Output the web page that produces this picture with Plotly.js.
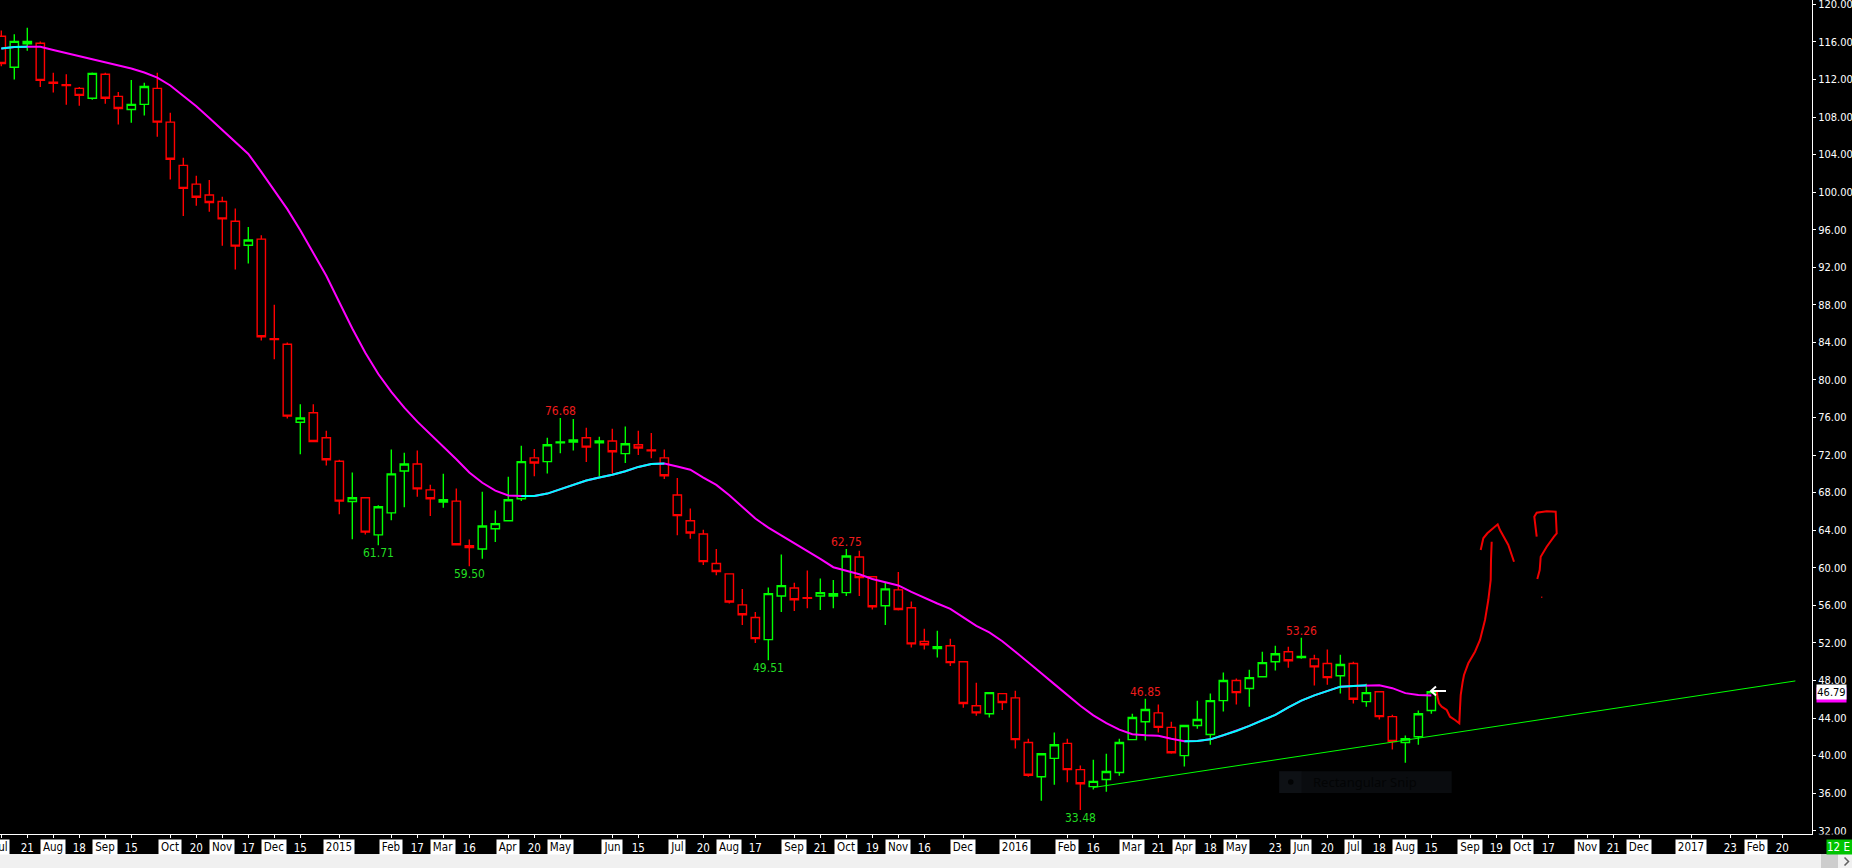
<!DOCTYPE html>
<html><head><meta charset="utf-8">
<script src="https://cdn.plot.ly/plotly-3.0.1.min.js"></script>
<style>html,body{margin:0;padding:0;background:#000;overflow:hidden}#chart{width:1852px;height:868px}</style>
</head><body><div id="chart"></div>
<script>
// ---------- DATA (weekly bars) ----------
const dates = ['2014-07-07','2014-07-14','2014-07-21','2014-07-28','2014-08-04','2014-08-11','2014-08-18','2014-08-25','2014-09-01','2014-09-08','2014-09-15','2014-09-22','2014-09-29','2014-10-06','2014-10-13','2014-10-20','2014-10-27','2014-11-03','2014-11-10','2014-11-17','2014-11-24','2014-12-01','2014-12-08','2014-12-15','2014-12-22','2014-12-29',
'2015-01-05','2015-01-12','2015-01-19','2015-01-26','2015-02-02','2015-02-09','2015-02-16','2015-02-23','2015-03-02','2015-03-09','2015-03-16','2015-03-23','2015-03-30','2015-04-06','2015-04-13','2015-04-20','2015-04-27','2015-05-04','2015-05-11','2015-05-18','2015-05-25','2015-06-01','2015-06-08','2015-06-15','2015-06-22','2015-06-29','2015-07-06','2015-07-13','2015-07-20','2015-07-27','2015-08-03','2015-08-10','2015-08-17','2015-08-24','2015-08-31','2015-09-07','2015-09-14','2015-09-21','2015-09-28','2015-10-05','2015-10-12','2015-10-19','2015-10-26','2015-11-02','2015-11-09','2015-11-16','2015-11-23','2015-11-30','2015-12-07','2015-12-14','2015-12-21','2015-12-28',
'2016-01-04','2016-01-11','2016-01-18','2016-01-25','2016-02-01','2016-02-08','2016-02-15','2016-02-22','2016-02-29','2016-03-07','2016-03-14','2016-03-21','2016-03-28','2016-04-04','2016-04-11','2016-04-18','2016-04-25','2016-05-02','2016-05-09','2016-05-16','2016-05-23','2016-05-30','2016-06-06','2016-06-13','2016-06-20','2016-06-27','2016-07-04','2016-07-11','2016-07-18','2016-07-25','2016-08-01','2016-08-08','2016-08-15'];

const openP = [116.6,113.3,115.8,115.85,111.7,111.45,111.05,110.0,112.55,110.2,
108.8,109.35,111.05,107.45,102.85,100.85,99.7,99.0,96.9,94.35,
95.0,84.4,83.8,75.5,76.5,73.85,71.35,67.05,67.45,63.5,
65.85,70.3,71.05,68.3,67.0,67.1,62.35,62.0,64.15,65.0,
67.35,71.7,71.3,73.3,73.4,73.85,73.3,73.5,72.15,73.1,
72.55,71.7,67.75,65.0,63.6,60.45,59.35,56.05,54.7,52.35,
57.0,57.85,56.8,57.0,57.0,57.35,61.15,59.05,55.95,57.65,
55.75,52.15,51.4,51.7,50.0,45.3,44.45,46.6,46.15,41.4,
37.75,39.7,41.3,38.5,36.7,37.45,38.2,41.7,43.6,44.55,
43.0,40.0,43.2,42.25,45.85,48.0,47.15,48.4,50.0,51.05,
50.45,50.3,49.8,48.5,49.8,45.75,46.8,44.15,41.4,42.0,44.8];

const highP = [117.2,116.8,117.5,116.05,112.7,112.55,111.2,112.75,112.7,110.65,
111.95,111.65,112.7,108.45,103.65,101.75,101.3,99.5,98.25,96.3,
95.4,88.0,84.0,77.4,77.4,74.6,71.5,70.15,67.5,66.65,
72.6,72.25,72.5,68.85,70.0,68.45,63.0,68.1,66.1,69.7,
73.0,72.65,73.85,75.95,75.85,74.9,73.95,74.8,75.05,74.6,
74.35,72.6,69.55,66.3,64.05,62.0,59.4,57.75,55.3,57.9,
61.4,58.4,59.7,58.85,58.7,62.0,61.8,59.1,58.4,59.55,
56.4,53.5,53.3,52.45,50.05,47.75,46.75,46.65,46.9,41.8,
40.25,42.45,41.8,38.95,39.55,40.2,41.8,44.45,46.05,45.45,
43.6,43.25,45.85,46.6,48.85,48.2,49.15,51.05,51.7,51.6,
52.55,50.75,51.3,50.75,50.0,47.65,46.85,44.35,42.15,44.8,46.85];

const lowP = [113.4,112.0,115.05,111.2,110.6,109.3,109.2,109.85,109.4,107.2,
107.4,108.15,105.9,101.35,97.45,98.55,97.9,94.3,91.75,92.4,
84.2,82.2,75.9,72.1,73.4,70.9,65.7,63.05,63.55,62.4,
65.05,66.45,67.55,65.5,66.4,62.4,60.15,60.95,62.75,64.95,
67.1,69.75,70.05,72.2,72.5,71.25,69.75,70.05,71.15,72.0,
71.65,69.45,63.45,63.1,60.3,59.2,56.2,53.9,52.0,50.15,
55.3,55.4,55.7,55.5,55.7,57.0,57.0,55.55,53.9,55.45,
51.5,51.3,50.45,49.55,45.1,44.25,44.05,44.85,40.75,37.75,
35.2,36.9,37.15,34.2,36.4,36.15,37.85,41.65,41.6,42.45,
40.2,38.85,42.85,41.15,44.7,45.45,45.2,48.35,49.05,49.35,
50.3,47.45,47.55,46.6,45.55,45.2,43.85,40.65,39.25,41.15,44.45];

const closeP = [113.7,116.05,116.05,111.9,111.6,111.35,110.3,112.65,110.0,108.9,
109.35,111.25,107.45,103.5,100.4,99.45,98.9,97.15,94.25,94.9,
84.6,84.3,76.15,75.95,73.45,71.5,67.1,67.45,63.8,66.5,
70.0,71.05,68.4,67.35,67.25,62.45,62.15,64.45,64.7,67.25,
71.3,71.15,73.1,73.4,73.6,72.85,73.5,72.35,73.2,72.75,
72.45,69.8,65.55,63.7,60.65,59.6,56.35,55.0,52.45,57.25,
58.1,56.6,56.75,57.35,57.25,61.25,58.95,55.85,57.75,55.55,
51.9,51.8,51.6,49.9,45.55,44.55,46.7,45.65,41.7,37.9,
40.2,41.15,38.5,37.0,37.25,38.3,41.4,44.05,44.9,43.0,
40.3,43.2,43.85,45.85,48.0,46.7,48.3,49.9,50.85,50.1,
50.55,49.45,48.3,49.7,46.0,46.7,44.15,41.5,41.8,44.45,46.79];

const maValues = [115.30,115.45,115.49,115.49,115.14,114.80,114.49,114.18,113.85,113.51,
113.17,112.74,112.20,111.36,110.24,109.14,107.90,106.63,105.37,104.07,
102.16,100.24,98.19,95.94,93.49,91.10,88.27,85.48,82.90,80.63,
78.73,77.06,75.56,74.22,72.95,71.56,70.14,69.05,68.22,67.69,
67.63,67.64,67.90,68.36,68.86,69.29,69.61,69.90,70.28,70.74,
71.06,71.10,70.78,70.44,69.61,68.83,67.73,66.50,65.24,64.27,
63.46,62.65,61.78,60.94,60.06,59.71,59.31,58.81,58.46,58.12,
57.44,56.80,56.20,55.62,54.73,53.81,53.12,52.18,51.06,49.96,
48.77,47.61,46.46,45.30,44.29,43.46,42.76,42.27,42.16,42.10,
41.79,41.52,41.55,41.73,42.16,42.62,43.16,43.78,44.33,45.14,
45.85,46.41,46.84,47.34,47.41,47.48,47.48,47.18,46.65,46.44,46.41];

const trendDates = ['2016-02-15','2017-02-27'];
const trendValues = [36.6, 47.95];

const extremeIndex = [29, 36, 43, 59, 65, 83, 88, 100];
const extremeText  = ['61.71','59.50','76.68','49.51','62.75','33.48','46.85','53.26'];
const extremeKind  = ['low','low','high','low','high','low','high','high'];

const tickDates = ['2014-07-07','2014-07-21','2014-08-04','2014-08-18','2014-09-01','2014-09-15','2014-10-06','2014-10-20','2014-11-03','2014-11-17','2014-12-01','2014-12-15',
'2015-01-05','2015-02-02','2015-02-16','2015-03-02','2015-03-16','2015-04-06','2015-04-20','2015-05-04','2015-06-01','2015-06-15','2015-07-06','2015-07-20','2015-08-03','2015-08-17','2015-09-07','2015-09-21','2015-10-05','2015-10-19','2015-11-02','2015-11-16','2015-12-07',
'2016-01-04','2016-02-01','2016-02-15','2016-03-07','2016-03-21','2016-04-04','2016-04-18','2016-05-02','2016-05-23','2016-06-06','2016-06-20','2016-07-04','2016-07-18','2016-08-01','2016-08-15','2016-09-05','2016-09-19','2016-10-03','2016-10-17','2016-11-07','2016-11-21','2016-12-05',
'2017-01-02','2017-01-23','2017-02-06','2017-02-20'];
const tickLabels = ['Jul','21','Aug','18','Sep','15','Oct','20','Nov','17','Dec','15',
'2015','Feb','17','Mar','16','Apr','20','May','Jun','15','Jul','20','Aug','17','Sep','21','Oct','19','Nov','16','Dec',
'2016','Feb','16','Mar','21','Apr','18','May','23','Jun','20','Jul','18','Aug','15','Sep','19','Oct','17','Nov','21','Dec',
'2017','23','Feb','20'];

const lastPrice = 46.79;
const lastMA = 46.41;

// ---------- STYLE ----------
const FONT = "'DejaVu Sans Condensed', 'Liberation Sans Narrow', 'DejaVu Sans', sans-serif";
const RED = '#ff0000', GREEN = '#00ff00', MAG = '#ff00ff', CYAN = '#00ffff';
const PW = 1812, PH = 834; // plot area in px

function isBoxed(lbl){ const n = Number(lbl); return isNaN(n) || n > 31; }
function measure(txt, size){
  const c = document.createElement('canvas').getContext('2d');
  c.font = size + 'px ' + FONT;
  return c.measureText(txt).width;
}
function px(x, y){ return (x / PW).toFixed(5) + ',' + ((PH - y) / PH).toFixed(5); }
function pathOf(pts){ return pts.map((p, i) => (i ? 'L' : 'M') + px(p[0], p[1])).join(' '); }

// rising MA segments drawn cyan on top of the magenta line
const maRising = maValues.map((v, i) => {
  const up = (i > 0 && v > maValues[i - 1]) || (i < maValues.length - 1 && maValues[i + 1] > v);
  return up ? v : null;
});

const traces = [
  {
    type: 'candlestick', x: dates, open: openP, high: highP, low: lowP, close: closeP,
    increasing: {line: {color: GREEN, width: 1.4}, fillcolor: '#000000'},
    decreasing: {line: {color: RED, width: 1.4}, fillcolor: '#000000'},
    whiskerwidth: 0, hoverinfo: 'none', showlegend: false
  },
  {type: 'scatter', mode: 'lines', x: dates, y: maValues, line: {color: MAG, width: 2}, hoverinfo: 'skip', showlegend: false},
  {type: 'scatter', mode: 'lines', x: dates, y: maRising, connectgaps: false, line: {color: CYAN, width: 2}, hoverinfo: 'skip', showlegend: false},
  {type: 'scatter', mode: 'lines', x: trendDates, y: trendValues, line: {color: GREEN, width: 1}, hoverinfo: 'skip', showlegend: false}
];

const annotations = [];
// high / low value labels
extremeIndex.forEach((idx, k) => {
  const low = extremeKind[k] === 'low';
  annotations.push({
    x: dates[idx], y: low ? lowP[idx] : highP[idx], xref: 'x', yref: 'y',
    text: extremeText[k], showarrow: false,
    yanchor: low ? 'top' : 'bottom', yshift: low ? 1 : -2,
    font: {family: FONT, size: 12, color: low ? '#22dd22' : '#ee1c1c'}
  });
});
// month / year labels in white boxes
tickDates.forEach((d, k) => {
  if (!isBoxed(tickLabels[k])) return;
  annotations.push({
    x: d, xref: 'x', y: -5 / PH, yref: 'paper', yanchor: 'top', xanchor: 'center',
    text: tickLabels[k], showarrow: false, bgcolor: '#ffffff', borderpad: 0,
    width: Math.round(measure(tickLabels[k], 11.5) + 4), height: 14,
    font: {family: FONT, size: 11.5, color: '#000000'}
  });
});
// price tags on the right axis
annotations.push({x: 1, xref: 'paper', xshift: 4, xanchor: 'left', y: lastMA, yref: 'y', yanchor: 'middle',
  text: lastMA.toFixed(2), showarrow: false, bgcolor: MAG, borderpad: 0, width: 29, height: 14,
  font: {family: FONT, size: 11, color: MAG}});
annotations.push({x: 1, xref: 'paper', xshift: 4, xanchor: 'left', y: lastPrice, yref: 'y', yanchor: 'middle',
  text: lastPrice.toFixed(2), showarrow: false, bgcolor: '#ffffff', borderpad: 0, width: 29, height: 14,
  font: {family: FONT, size: 11, color: '#000000'}});
// time zone box
annotations.push({x: 1826 / PW, xref: 'paper', xanchor: 'left', y: (PH - 838.5) / PH, yref: 'paper', yanchor: 'top',
  text: '12 E', showarrow: false, bgcolor: '#00c400', borderpad: 0, width: 30, height: 14, align: 'left',
  font: {family: FONT, size: 11.5, color: '#ffffff'}});
// faint snipping-tool tooltip text
annotations.push({x: 1311 / PW, xref: 'paper', xanchor: 'left', y: (PH - 782) / PH, yref: 'paper', yanchor: 'middle',
  text: 'Rectangular Snip', showarrow: false, font: {family: "'Noto Sans', sans-serif", size: 13, color: '#030405'}});

// hand drawn marks and screen decorations (pixel sketches)
const redStroke = [[1436.7,690],[1437.5,697],[1439,703.3],[1441.7,706.7],[1446.7,710],[1450,716.7],[1455,720],[1459.3,723.3],[1460,708.3],[1460.7,695],[1462.7,681.7],[1464,675],[1468.3,663.3],[1475,651.7],[1480,640],[1485,620],[1488.3,600],[1490.7,580],[1491,560],[1491.7,541.7]];
const redHead = [[1480.7,550],[1483.3,538.3],[1487.3,533.3],[1497.7,524.3],[1500,530],[1508.3,545],[1514,561.7]];
const redQuestion = [[1536.7,536.7],[1534.3,516.7],[1536.7,512.7],[1546.7,511.3],[1555.7,511.7],[1556.7,533.3],[1554,536.7],[1546.7,546.7],[1540.7,556.7],[1539.7,570],[1537.3,579]];
const whiteShaft = [[1446,691],[1431,691]];
const whiteHead = [[1436,686.5],[1431,691],[1436,695.5]];

const paperRect = (x0, y0, x1, y1, fill) => ({type: 'rect', xref: 'paper', yref: 'paper',
  x0: x0 / PW, x1: x1 / PW, y0: (PH - y0) / PH, y1: (PH - y1) / PH, fillcolor: fill, line: {width: 0}, layer: 'above'});

const shapes = [
  {type: 'path', xref: 'paper', yref: 'paper', path: pathOf(redStroke), line: {color: '#f00000', width: 2}, layer: 'above'},
  {type: 'path', xref: 'paper', yref: 'paper', path: pathOf(redHead), line: {color: '#f00000', width: 2}, layer: 'above'},
  {type: 'path', xref: 'paper', yref: 'paper', path: pathOf(redQuestion), line: {color: '#f00000', width: 2}, layer: 'above'},
  paperRect(1541, 596.6, 1542.4, 598, '#c00000'),
  {type: 'path', xref: 'paper', yref: 'paper', path: pathOf(whiteShaft), line: {color: '#ffffff', width: 2}, layer: 'above'},
  {type: 'path', xref: 'paper', yref: 'paper', path: pathOf(whiteHead), line: {color: '#ffffff', width: 2}, layer: 'above'},
  paperRect(1279.3, 771.3, 1451.7, 793, '#0a0c0f'),
  paperRect(1279.3, 771.3, 1301.7, 793, '#0e1115'),
  {type: 'circle', xref: 'paper', yref: 'paper', x0: 1288 / PW, x1: 1293.5 / PW, y0: (PH - 779.3) / PH, y1: (PH - 784.8) / PH, fillcolor: '#020304', line: {width: 0}, layer: 'above'},
  // black strip under the price scale (clips the lowest price label like the platform does)
  paperRect(1813, 834.5, 1860, 854, '#000000'),
  paperRect(-5, 854, 1860, 872, '#f0f0f0'),
  paperRect(1821, 854, 1838, 872, '#cdcdcd'),
  {type: 'path', xref: 'paper', yref: 'paper', path: pathOf([[1844.5,857.5],[1848.5,861.5],[1844.5,865.5]]), line: {color: '#606060', width: 1.5}, layer: 'above'}
];

const layout = {
  width: 1852, height: 868,
  margin: {l: 0, r: 40, t: 0, b: 34, pad: 0},
  paper_bgcolor: '#000000', plot_bgcolor: '#000000',
  showlegend: false, hovermode: false,
  boxgap: 0.36, boxgroupgap: 0,
  xaxis: {
    type: 'date', range: ['2014-07-06 07:12', '2017-03-07 23:00'],
    rangeslider: {visible: false},
    tickmode: 'array', tickvals: tickDates,
    ticktext: tickLabels.map(l => isBoxed(l) ? '' : l),
    ticks: 'outside', ticklen: 3, tickcolor: '#ffffff', tickwidth: 1,
    showline: true, linecolor: '#ffffff', linewidth: 1,
    showgrid: false, zeroline: false, fixedrange: true,
    tickfont: {family: FONT, size: 11.5, color: '#ffffff'}
  },
  yaxis: {
    side: 'right', range: [31.65, 120.46],
    tick0: 0, dtick: 4, tickformat: '.2f',
    ticks: 'outside', ticklen: 3, tickcolor: '#ffffff', tickwidth: 1,
    ticklabeloverflow: 'allow',
    showline: true, linecolor: '#ffffff', linewidth: 1,
    showgrid: false, zeroline: false, fixedrange: true,
    tickfont: {family: FONT, size: 11, color: '#ffffff'}
  },
  annotations: annotations,
  shapes: shapes
};

Plotly.newPlot('chart', traces, layout, {staticPlot: true, displayModeBar: false});
</script>
</body></html>
